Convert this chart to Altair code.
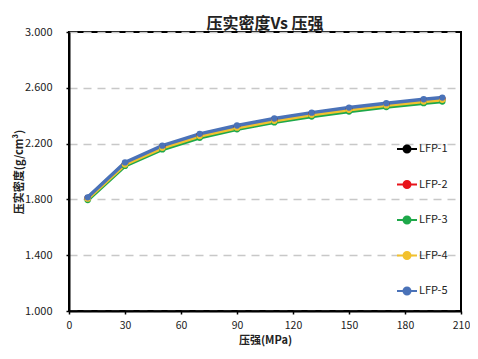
import altair as alt
import pandas as pd

pressure = [10, 30, 50, 70, 90, 110, 130, 150, 170, 190, 200]
series_names = ["LFP-1", "LFP-2", "LFP-3", "LFP-4", "LFP-5"]
lfp1 = [1.810, 2.058, 2.178, 2.262, 2.322, 2.372, 2.414, 2.450, 2.482, 2.510, 2.522]
lfp2 = [1.808, 2.055, 2.175, 2.259, 2.319, 2.369, 2.411, 2.447, 2.479, 2.507, 2.519]
lfp3 = [1.795, 2.040, 2.158, 2.242, 2.302, 2.352, 2.394, 2.430, 2.462, 2.490, 2.502]
lfp4 = [1.805, 2.050, 2.170, 2.254, 2.314, 2.364, 2.406, 2.442, 2.474, 2.502, 2.514]
lfp5 = [1.815, 2.065, 2.185, 2.270, 2.330, 2.380, 2.422, 2.458, 2.490, 2.518, 2.530]
colors = ["#000000", "#e8141b", "#1ea84a", "#f2c12e", "#4a72b8"]
x_ticks = [0, 30, 60, 90, 120, 150, 180, 210]
y_ticks = [1.0, 1.4, 1.8, 2.2, 2.6, 3.0]

rows = []
for name, vals in zip(series_names, [lfp1, lfp2, lfp3, lfp4, lfp5]):
    for p, v in zip(pressure, vals):
        rows.append({"series": name, "pressure": p, "density": v})
df = pd.DataFrame(rows)

font = "Noto Sans CJK SC"

x = alt.X("pressure:Q", scale=alt.Scale(domain=[0, 210], nice=False),
          axis=alt.Axis(values=x_ticks, title="压强(MPa)", grid=False, labelFlush=False,
                        format="d"))
y = alt.Y("density:Q", scale=alt.Scale(domain=[1.0, 3.0], nice=False),
          axis=alt.Axis(values=y_ticks, title="压实密度(g/cm³)", format=".3f",
                        grid=True, gridDash=[8, 6], gridColor="#c8c8c8", gridWidth=1.5))
color = alt.Color("series:N", scale=alt.Scale(domain=series_names, range=colors),
                  legend=alt.Legend(title=None, orient="none", legendX=327, legendY=106,
                                    rowPadding=16.5,
                                    symbolType="M-1,0L1,0M-0.35,0A0.35,0.35 0 1,1 0.35,0A0.35,0.35 0 1,1 -0.35,0",
                                    symbolSize=400, symbolStrokeWidth=2,
                                    labelFontSize=11, labelFont=font, labelColor="#222",
                                    labelOffset=1))

base = alt.Chart(df)
lines = base.mark_line(strokeWidth=3.5).encode(x=x, y=y, color=color)
points = base.mark_point(filled=True, size=40, opacity=1).encode(x=x, y=y, color=color)

chart = alt.layer(lines, points).properties(
    width=392, height=279,
    autosize=alt.AutoSizeParams(type="none"),
    padding={"left": 61, "top": 24, "right": 9, "bottom": 40},
    title=alt.TitleParams("压实密度Vs 压强", fontSize=16, font=font, fontWeight="bold",
                          color="#222", anchor="middle", offset=-6),
).configure_view(
    stroke="black", strokeWidth=2
).configure_axis(
    domainColor="black", domainWidth=2, tickColor="black", tickSize=3, tickWidth=1.5,
    labelFont=font, labelFontSize=11, labelColor="#222",
    titleFont=font, titleFontSize=11, titleFontWeight="bold", titleColor="#222",
).configure_axisX(
    labelPadding=6, titlePadding=4, labelFontSize=10.5
).configure_axisY(
    labelPadding=14, titlePadding=0
)

chart.save("out.html", embed_options={"renderer": "svg", "actions": False})
